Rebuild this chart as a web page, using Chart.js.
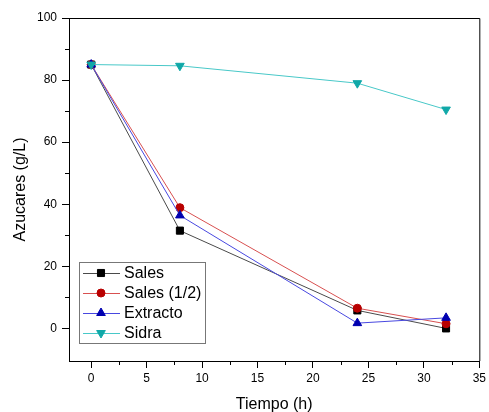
<!DOCTYPE html>
<html>
<head>
<meta charset="utf-8">
<script src="https://cdn.jsdelivr.net/npm/chart.js@4"></script>
<style>
  html, body { margin: 0; padding: 0; background: #fff; }
  #wrap { width: 489px; height: 412px; }
</style>
</head>
<body>
<div id="wrap"><canvas id="myChart" width="489" height="412"></canvas></div>
<script>
// data
var tiempo = [0, 8, 24, 32];
var sales = [85, 31.5, 5.8, 0];
var salesMedio = [85, 38.9, 6.5, 1.5];
var extracto = [85, 36.4, 1.7, 3.4];
var sidra = [85, 84.6, 79, 70.5];

var xTicks = [0, 5, 10, 15, 20, 25, 30, 35];
var xMinor = [2.5, 7.5, 12.5, 17.5, 22.5, 27.5, 32.5];
var yTicks = [0, 20, 40, 60, 80, 100];
var yMinor = [10, 30, 50, 70, 90];

var FONT = '"Liberation Sans", Arial, sans-serif';

function pts(ys) {
  return tiempo.map(function (t, i) { return { x: t, y: ys[i] }; });
}

var series = [
  { label: 'Sales', data: sales, line: '#4a4a4a', fill: '#000000', shape: 'rect', r: 5, rot: 0 },
  { label: 'Sales (1/2)', data: salesMedio, line: '#d85050', fill: '#b80000', shape: 'circle', r: 4, rot: 0 },
  { label: 'Extracto', data: extracto, line: '#4848e0', fill: '#0000b0', shape: 'triangle', r: 5, rot: 0 },
  { label: 'Sidra', data: sidra, line: '#48c8c8', fill: '#10a8a8', shape: 'triangle', r: 5, rot: 180 }
];

// box around the plot, short minor ticks, legend inside the plot
var frame = {
  id: 'frame',
  afterDraw: function (chart) {
    var ctx = chart.ctx, a = chart.chartArea;
    var xs = chart.scales.x, ys = chart.scales.y;
    ctx.save();
    ctx.strokeStyle = '#000';
    ctx.lineWidth = 1;
    ctx.beginPath();
    ctx.moveTo(a.left, a.top + 0.5);
    ctx.lineTo(a.right + 0.5, a.top + 0.5);
    ctx.lineTo(a.right + 0.5, a.bottom);
    xMinor.forEach(function (v) {
      var px = Math.round(xs.getPixelForValue(v)) + 0.5;
      ctx.moveTo(px, a.bottom);
      ctx.lineTo(px, a.bottom + 4);
    });
    yMinor.forEach(function (v) {
      var py = Math.round(ys.getPixelForValue(v)) + 0.5;
      ctx.moveTo(a.left, py);
      ctx.lineTo(a.left - 4, py);
    });
    ctx.stroke();

    // legend
    var bx = 79, by = 262, bw = 126, bh = 81;
    ctx.strokeStyle = '#777';
    ctx.strokeRect(bx + 0.5, by + 0.5, bw, bh);
    ctx.font = '16px ' + FONT;
    ctx.textBaseline = 'middle';
    series.forEach(function (s, i) {
      var y = by + 11 + i * 20;
      ctx.strokeStyle = s.line;
      ctx.beginPath();
      ctx.moveTo(83, y + 0.5);
      ctx.lineTo(120, y + 0.5);
      ctx.stroke();
      ctx.fillStyle = s.fill;
      ctx.strokeStyle = s.fill;
      Chart.helpers.drawPoint(ctx, {
        pointStyle: s.shape, radius: s.r, rotation: s.rot, borderWidth: 1
      }, 101, y);
      ctx.fillStyle = '#000';
      ctx.fillText(s.label, 124, y + 1);
    });
    ctx.restore();
  }
};

var ctx = document.getElementById('myChart');
new Chart(ctx, {
  type: 'line',
  data: {
    datasets: series.map(function (s, i) {
      return {
        label: s.label,
        data: pts(s.data),
        order: series.length - i,
        borderColor: s.line,
        borderWidth: 1,
        backgroundColor: s.fill,
        pointBackgroundColor: s.fill,
        pointBorderColor: s.fill,
        pointStyle: s.shape,
        pointRadius: s.r,
        pointRotation: s.rot,
        tension: 0
      };
    })
  },
  options: {
    responsive: false,
    animation: false,
    layout: { padding: { top: 18, right: 7, left: 0, bottom: -2 } },
    plugins: { legend: { display: false }, tooltip: { enabled: false } },
    scales: {
      x: {
        type: 'linear',
        min: -2,
        max: 35,
        afterBuildTicks: function (scale) {
          scale.ticks = xTicks.map(function (v) { return { value: v }; });
        },
        afterFit: function (scale) { scale.height = 53; },
        ticks: {
          color: '#000',
          font: { family: FONT, size: 12 },
          padding: 3,
          maxRotation: 0,
          autoSkip: false
        },
        grid: { drawOnChartArea: false, drawTicks: true, tickLength: 7, color: '#000' },
        border: { color: '#000', width: 1 },
        title: {
          display: true,
          text: 'Tiempo (h)',
          color: '#000',
          font: { family: FONT, size: 16 },
          padding: { top: 4, bottom: 0 }
        }
      },
      y: {
        min: -10.5,
        max: 100,
        afterBuildTicks: function (scale) {
          scale.ticks = yTicks.map(function (v) { return { value: v }; });
        },
        afterFit: function (scale) { scale.width = 69; },
        ticks: {
          color: '#000',
          font: { family: FONT, size: 12 },
          padding: 5,
          autoSkip: false
        },
        grid: { drawOnChartArea: false, drawTicks: true, tickLength: 7, color: '#000' },
        border: { color: '#000', width: 1 },
        title: {
          display: true,
          text: 'Azucares (g/L)',
          color: '#000',
          font: { family: FONT, size: 16 },
          padding: { top: 11, bottom: 4 }
        }
      }
    }
  },
  plugins: [frame]
});
</script>
</body>
</html>
